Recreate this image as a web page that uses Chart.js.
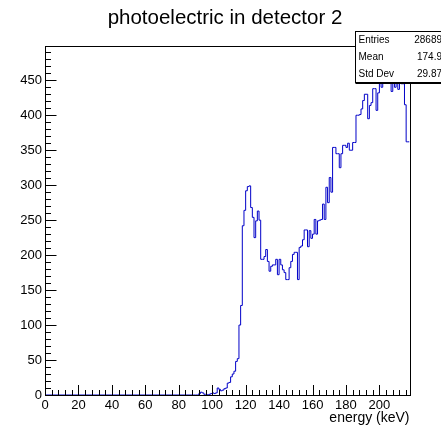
<!DOCTYPE html>
<html lang="en">
<head>
    <meta charset="UTF-8">
    <title>photoelectric in detector 2</title>
    <style>
        * { margin: 0; padding: 0; }
        html, body { width: 441px; height: 431px; background: #fff; overflow: hidden; }
        #chartCanvasId { display: block; }
    </style>
</head>
<body>
    <canvas id="chartCanvasId" width="441" height="431"></canvas>

    <script src="https://cdn.jsdelivr.net/npm/chart.js@4.4.1/dist/chart.umd.min.js"></script>
    <script>
        "use strict";

        // histogram: 1 keV bins, everything below firstBin is empty
        const chartTitle    = "photoelectric in detector 2"
        const xTitle        = "energy (keV)"
        const xRange        = [0, 218]
        const yRange        = [0, 499]
        const binWidth      = 1
        const firstBin      = 88
        const counts        = [
            0, 0, 0, 0, 2, 4, 3, 1, 1, 0,                 // 88-97
            1, 2, 3, 2, 3, 10, 8, 6, 7, 9,                // 98-107
            10, 17, 18, 26, 30, 34, 48, 52, 100, 128,     // 108-117
            242, 264, 292, 298, 299, 268, 254, 225, 249, 263, // 118-127
            250, 194, 194, 198, 208, 191, 177, 184, 186, 186, // 128-137
            194, 172, 194, 186, 179, 175, 165, 165, 182, 191, // 138-147
            201, 204, 204, 165, 211, 213, 222, 236, 236, 212, // 148-157
            235, 224, 230, 251, 230, 249, 250, 251, 273, 251, // 158-167
            297, 275, 311, 290, 354, 354, 345, 345, 325, 345, // 168-177
            357, 357, 354, 360, 350, 350, 361, 361, 400, 400, // 178-187
            401, 409, 421, 430, 430, 395, 414, 418, 438, 438, // 188-197
            407, 432, 447, 440, 460, 446, 470, 458, 475, 434, // 198-207
            452, 440, 455, 437, 450, 445, 445, 415, 362, 362  // 208-217
        ]
        const xLabels       = [0, 20, 40, 60, 80, 100, 120, 140, 160, 180, 200]
        const yLabels       = [0, 50, 100, 150, 200, 250, 300, 350, 400, 450]
        const xTicks        = [20, 4]    // major, minor step
        const yTicks        = [50, 10]
        const statLabels    = ["Entries", "Mean", "Std Dev"]
        const statValues    = ["28689", "174.9", "29.87"]

        const FONT = "'Liberation Sans', Arial, Helvetica, sans-serif"
        const LINE = "#0000c8"

        // step points: one at each lower bin edge, plus the closing edge
        let points = [{ x: xRange[0], y: 0 }]
        counts.forEach((c, i) => points.push({ x: firstBin + i * binWidth, y: c }))
        points.push({ x: firstBin + counts.length * binWidth, y: counts[counts.length - 1] })

        // ROOT style frame, inward ticks, titles and stats box
        const rootLook = {
            id: 'rootLook',
            afterDraw(chart) {
                const ctx = chart.ctx
                const a   = chart.chartArea
                const xs  = chart.scales.x
                const ys  = chart.scales.y
                ctx.save()

                // title
                ctx.fillStyle    = '#000'
                ctx.font         = "20.5px " + FONT
                ctx.textAlign    = 'center'
                ctx.textBaseline = 'middle'
                ctx.fillText(chartTitle, 225, 18)

                // x axis title
                ctx.font      = "14px " + FONT
                ctx.textAlign = 'right'
                ctx.fillText(xTitle, a.right, 418)

                // frame
                ctx.strokeStyle = '#000'
                ctx.lineWidth   = 1
                const L = Math.round(a.left) + 0.5, R = Math.round(a.right) + 0.5
                const T = Math.round(a.top) + 0.5,  B = Math.round(a.bottom) + 0.5
                ctx.strokeRect(L, T, R - L, B - T)

                // x ticks
                ctx.beginPath()
                for (let v = xRange[0]; v <= xRange[1]; v += xTicks[1]) {
                    const px  = Math.round(xs.getPixelForValue(v)) + 0.5
                    const len = (v % xTicks[0] === 0) ? 10.5 : 5.5
                    ctx.moveTo(px, B)
                    ctx.lineTo(px, B - len)
                }
                // y ticks
                for (let v = yRange[0]; v <= yRange[1]; v += yTicks[1]) {
                    const py  = Math.round(ys.getPixelForValue(v)) + 0.5
                    const len = (v % yTicks[0] === 0) ? 11 : 5.5
                    ctx.moveTo(L, py)
                    ctx.lineTo(L + len, py)
                }
                ctx.stroke()

                // stats box (runs off the right edge like the original)
                const bx = 355.5, by = 31.5, bw = 100, bh = 51
                ctx.fillStyle = '#fff'
                ctx.fillRect(bx, by, bw, bh)
                ctx.strokeRect(bx, by, bw, bh)
                ctx.fillStyle = '#000'
                ctx.fillRect(bx, by + bh, bw, 1.5)
                ctx.font         = "10px " + FONT
                ctx.textBaseline = 'middle'
                statLabels.forEach((s, i) => {
                    const ty = by + 8.5 + i * 17
                    ctx.textAlign = 'left'
                    ctx.fillText(s, bx + 3, ty)
                    ctx.textAlign = 'right'
                    ctx.fillText(statValues[i], 442, ty)
                })
                ctx.restore()
            }
        }

        const chartCanvas  = document.getElementById('chartCanvasId')
        const chartContext = chartCanvas.getContext('2d')

        const myChart = new Chart(chartContext, {
            type: 'line',
            data: {
                datasets: [{
                    data: points,
                    stepped: 'before',
                    borderColor: LINE,
                    borderWidth: 1,
                    pointRadius: 0,
                    fill: false,
                    tension: 0
                }]
            },
            options: {
                responsive: false,
                animation: false,
                layout: { padding: { top: 46, right: 31.5, left: 0, bottom: 0 } },
                plugins: {
                    legend:  { display: false },
                    tooltip: { enabled: false },
                    title:   { display: false }
                },
                scales: {
                    x: {
                        type: 'linear',
                        min: xRange[0],
                        max: xRange[1],
                        bounds: 'data',
                        grid:   { display: false, drawTicks: false },
                        border: { display: false },
                        ticks: {
                            autoSkip: false,
                            maxRotation: 0,
                            padding: 3,
                            color: '#000',
                            font: { family: FONT, size: 13 }
                        },
                        afterBuildTicks: s => { s.ticks = xLabels.map(v => ({ value: v })) },
                        afterFit: s => { s.height = 36 }
                    },
                    y: {
                        type: 'linear',
                        min: yRange[0],
                        max: yRange[1],
                        bounds: 'data',
                        grid:   { display: false, drawTicks: false },
                        border: { display: false },
                        ticks: {
                            padding: 3,
                            color: '#000',
                            font: { family: FONT, size: 13 }
                        },
                        afterBuildTicks: s => { s.ticks = yLabels.map(v => ({ value: v })) },
                        afterFit: s => { s.width = 45 }
                    }
                }
            },
            plugins: [rootLook]
        });
    </script>
</body>
</html>
